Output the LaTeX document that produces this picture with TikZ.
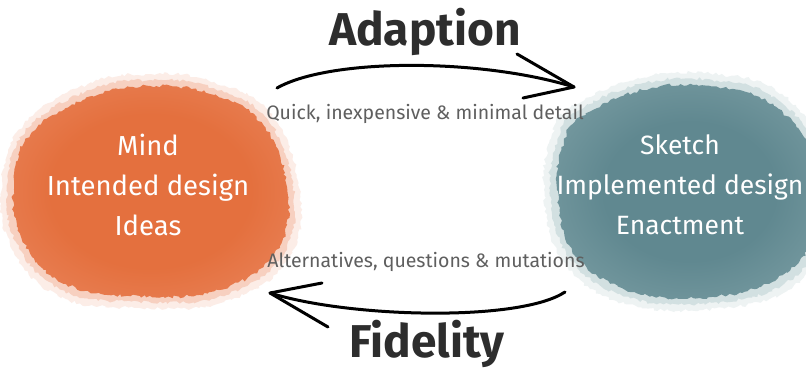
\documentclass[tikz,border=0pt]{standalone}
\usepackage{fontspec}
\setmainfont{Fira Sans}
\usetikzlibrary{decorations.pathmorphing}
\definecolor{orC}{RGB}{228,112,62}
\definecolor{orM}{RGB}{233,130,88}
\definecolor{orE}{RGB}{240,165,135}
\definecolor{tlC}{RGB}{96,136,144}
\definecolor{tlM}{RGB}{122,157,163}
\definecolor{tlE}{RGB}{170,196,199}
\definecolor{ink}{RGB}{45,45,45}
\definecolor{lbl}{RGB}{95,95,95}
\pgfdeclareradialshading{blobL}{\pgfpoint{0bp}{0bp}}{color(0bp)=(orC); color(18bp)=(orC); color(32bp)=(orM); color(44bp)=(orE); color(60bp)=(orE)}
\pgfdeclareradialshading{blobR}{\pgfpoint{0bp}{0bp}}{color(0bp)=(tlC); color(16bp)=(tlC); color(32bp)=(tlM); color(44bp)=(tlE); color(60bp)=(tlE)}
\tikzset{
  rough/.style={decorate, decoration={random steps, segment length=3pt, amplitude=1.6pt}},
  blobtext/.style={text=white, font=\fontsize{27.5}{40}\selectfont, align=center},
  title/.style={text=ink, font=\fontsize{46}{50}\selectfont\bfseries},
  sublabel/.style={text=lbl, font=\fontsize{19.5}{22}\selectfont},
  stroke/.style={draw=black, line width=3pt, line cap=round, line join=round},
}
\begin{document}
\begin{tikzpicture}[x=1pt,y=-1pt]
\useasboundingbox (0,0) rectangle (806,378);
\fill[white] (0,0) rectangle (806,378);
% left blob
\fill[orE, opacity=0.2, rough] plot[smooth cycle, tension=0.7] coordinates {(24,124) (88,84) (150,74) (214,82) (272,116) (300,195) (286,262) (224,302) (140,308) (58,296) (10,244) (2,180)};
\fill[orE, opacity=0.4, rough] plot[smooth cycle, tension=0.7] coordinates {(28,128) (90,90) (150,80) (212,88) (268,120) (294,195) (280,258) (222,296) (140,302) (62,290) (16,242) (8,180)};
\shade[shading=blobL, rough] plot[smooth cycle, tension=0.7] coordinates {(32,132) (92,96) (150,86) (210,94) (264,126) (288,196) (274,254) (219,290) (140,296) (66,284) (22,240) (14,180)};
% right blob
\fill[tlE, opacity=0.2, rough] plot[smooth cycle, tension=0.7] coordinates {(570,108) (638,78) (714,74) (782,94) (826,158) (826,234) (788,290) (700,310) (614,300) (560,256) (544,190) (552,134)};
\fill[tlE, opacity=0.4, rough] plot[smooth cycle, tension=0.7] coordinates {(576,112) (640,84) (712,80) (778,100) (820,160) (820,232) (784,284) (700,304) (618,294) (566,252) (550,190) (558,138)};
\shade[shading=blobR, rough] plot[smooth cycle, tension=0.7] coordinates {(582,116) (642,90) (710,86) (774,106) (816,162) (816,230) (778,278) (700,298) (622,288) (572,250) (557,190) (564,142)};
% blob texts
\node[blobtext] (mind) at (148,185) {Mind\\Intended design\\Ideas};
\node[blobtext, font=\fontsize{26.5}{40}\selectfont] (sketch) at (680,185) {Sketch\\Implemented design\\Enactment};
% titles
\node[title] (adaption) at (425,32) {Adaption};
\node[title] (fidelity) at (427,344) {Fidelity};
% sub labels
\node[sublabel] (quick) at (425,114) {Quick, inexpensive \& minimal detail};
\node[sublabel] (alt) at (426,262) {Alternatives, questions \& mutations};
% top arrow
\coordinate (ts) at (277,88);
\coordinate (tt) at (574,87);
\coordinate (th1) at (517,54);
\coordinate (th2) at (523,98);
\draw[stroke] (ts) .. controls (330,58) and (480,58) .. (tt);
\draw[stroke] (th1) -- (tt) -- (th2);
% bottom arrow
\coordinate (bs) at (565,292);
\coordinate (bt) at (270,293);
\coordinate (bh1) at (322,283);
\coordinate (bh2) at (328,327);
\draw[stroke] (bs) .. controls (520,322) and (350,318) .. (bt);
\draw[stroke] (bh1) -- (bt) -- (bh2);
\end{tikzpicture}
\end{document}
